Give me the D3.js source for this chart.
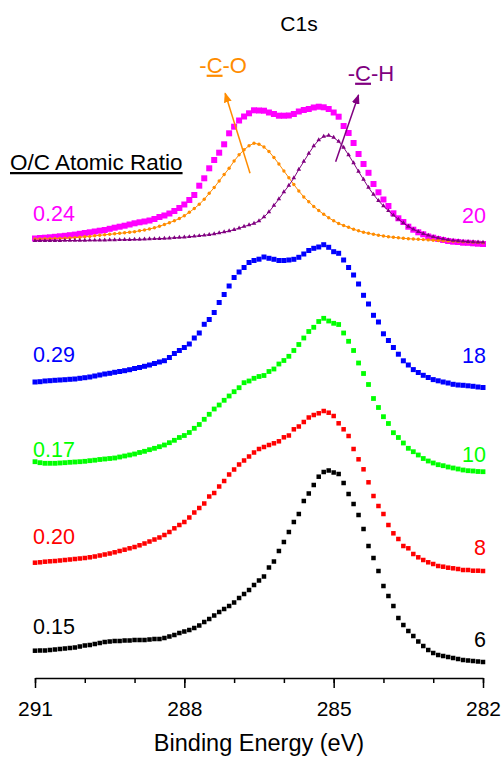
<!DOCTYPE html>
<html>
<head>
<meta charset="utf-8">
<script src="https://cdn.jsdelivr.net/npm/d3@7"></script>
<style>
  html, body { margin: 0; padding: 0; background: #fff; }
  svg { display: block; font-family: "Liberation Sans", Arial, Helvetica, sans-serif; }
</style>
</head>
<body>
<div id="chart"></div>
<script>
// channel grid: 291.0 -> 282.0 eV in 0.1 eV steps (91 channels)
const energyStart = 291.0;
const energyStep = 0.1;
const majorTicks = [291, 288, 285, 282];
const minorTicks = [291, 290, 289, 288, 287, 286, 285, 284, 283, 282];

// O/C ratio (left) and the number on the right of each trace, top to bottom
const ratioLabels = ['0.24', '0.29', '0.17', '0.20', '0.15'];
const rightLabels = ['20', '18', '10', '8', '6'];

// stacked C1s intensities (a.u., offsets included), one value per channel
const trace024 = [461.5, 462, 462.3, 462.7, 463.2, 463.7, 464.2, 464.8, 465.4, 466.2,
  467, 467.7, 468.5, 469.3, 470, 471.2, 472.3, 473.3, 474.3, 475.5,
  476.7, 477.7, 478.5, 479.5, 481, 483, 484.5, 486.5, 489, 492,
  495.5, 500, 505, 514.3, 521.7, 531.7, 540, 547.3, 555.7, 566.7,
  573.3, 579.5, 583.5, 586.7, 589.7, 589.5, 589.3, 587.5, 586, 584.3,
  584.3, 584.5, 586, 588.5, 590, 591, 592.5, 593.3, 592.7, 591,
  587.5, 583.3, 574, 567, 557, 546, 536, 527.2, 516, 507.7,
  500.5, 494, 486.7, 481.7, 478, 473.3, 470.3, 467.7, 465.7, 463.5,
  462.3, 461, 460, 459, 458.3, 458, 457.3, 457.2, 456.7, 456.3, 456];

const trace029 = [318, 318.3, 319, 319.3, 319.7, 320, 320.3, 320.7, 321, 321.7,
  322.3, 323, 324, 325, 326, 326.7, 327.7, 328.5, 329.3, 330.3,
  331.5, 332.5, 333.7, 335, 336.5, 338, 339.3, 342.5, 346.5, 349.5,
  352.5, 356, 362, 367, 375.7, 380.5, 387.5, 397.5, 405.5, 414,
  422.5, 428, 432.5, 437.5, 439.5, 440.8, 443, 441.7, 440.7, 439.5,
  439.5, 440, 440.7, 442.7, 446, 449.5, 451.7, 453, 455.3, 452.7,
  448.3, 446.7, 440, 432.5, 425, 416, 404.7, 396, 384.7, 378,
  366.2, 359.5, 352.5, 345.8, 339.2, 335, 330.4, 327.5, 324.7, 322.5,
  320.4, 319.2, 318, 317, 315.7, 315, 314.7, 314.2, 313.7, 313, 312.5];

const trace017 = [238.3, 237.3, 236.7, 236.7, 236.7, 237, 237.3, 237.7, 238, 238.3,
  238.7, 239.3, 239.8, 240.5, 241, 241.5, 242, 243, 244, 245,
  246, 247.5, 248.7, 250.3, 251.7, 253.3, 255, 257.3, 259.7, 262.5,
  264.5, 267.5, 271.7, 275.5, 280.7, 285.7, 291, 295, 299.7, 304,
  308.3, 312.3, 317.3, 319, 321.7, 323.5, 324.5, 328.5, 331, 336,
  339.5, 343.7, 349.5, 355.5, 362, 368.5, 372.7, 378.5, 381.7, 379,
  376.7, 375.5, 367, 358.7, 349.5, 337, 326.5, 315.5, 301.5, 292.5,
  283.3, 276.5, 267.3, 262.5, 257, 251.7, 248.3, 245, 241.5, 239,
  237, 235.3, 234.3, 233, 232, 231, 230, 229.3, 229, 228.5, 228.3];

const trace020 = [137.3, 137.7, 138.3, 138.7, 139, 139.5, 140, 140.5, 141, 141.5,
  142, 142.7, 143.5, 144.5, 145.5, 146.5, 147.7, 149, 150.3, 151.7,
  153, 154.7, 156.5, 158.5, 160.5, 162.5, 165, 168, 171.7, 175,
  178, 182.5, 187.5, 192, 196.5, 203.5, 207, 213.5, 219, 225.5,
  230.5, 235.5, 239.5, 243.5, 247.5, 251, 253, 255, 256.7, 258.7,
  262.7, 264.5, 270.7, 273.5, 278, 282.5, 285, 286.7, 289, 287.3,
  284, 276.7, 270.7, 264, 251, 240.7, 230.7, 217.7, 204, 194,
  186, 175, 166.7, 161, 154, 151.7, 146, 142.7, 140, 137.7,
  136, 134, 133.3, 132.3, 131.7, 131, 130, 130, 129.3, 129.3, 129];

const trace015 = [49.3, 49.5, 49.5, 50, 50.5, 51, 51.5, 52, 52.5, 53.5,
  54.5, 55, 56, 57, 58, 58.5, 59, 59, 59.5, 59.5,
  60, 60, 60, 60.5, 61, 61, 62, 63.5, 65, 67,
  68.5, 70, 72, 74.5, 78, 81, 84.5, 88, 91, 94,
  97.5, 102, 106, 110, 115, 119.5, 123.5, 132.5, 138.5, 149,
  158, 168, 178, 186, 199, 206.5, 215, 223.3, 228, 229.5,
  227.5, 226, 217, 206, 196, 185, 171, 154, 142, 129,
  114, 104, 94, 82, 75, 69, 64, 58.5, 54, 50,
  47, 45, 44, 43, 42, 41, 40, 39.5, 39, 38.5, 38];

// peak fit components of the 0.24 trace
const fitCO = [461, 461.1, 461.2, 461.3, 461.5, 461.6, 461.8, 462.1, 462.4, 462.8,
  463.2, 463.6, 464.2, 464.7, 465.2, 465.7, 466.2, 466.7, 467.2, 467.8,
  468.3, 469.2, 470, 471, 472.2, 473.7, 475.5, 477.3, 479.2, 481.5,
  484.2, 487.7, 491.5, 495.7, 500.7, 506.7, 512.5, 519, 525.5, 531.7,
  539, 545.2, 550.2, 554.3, 556.7, 555.8, 553, 548.5, 542.5, 536,
  529, 522.3, 515.5, 509, 503, 498.3, 493.5, 489.5, 485.7, 482.2,
  479.2, 476.5, 474.5, 472.7, 470.7, 469.2, 467.7, 466.7, 465.7, 464.8,
  464, 463.2, 462.7, 462.2, 461.7, 461.3, 461, 460.7, 460.4, 460.1,
  459.8, 459.5, 459.2, 458.9, 458.7, 458.4, 458.2, 457.9, 457.7, 457.5, 457.3];

const fitCH = [459.3, 459.3, 459.3, 459.4, 459.4, 459.4, 459.5, 459.5, 459.5, 459.6,
  459.6, 459.7, 459.7, 459.8, 459.9, 460, 460.1, 460.2, 460.3, 460.4,
  460.5, 460.6, 460.8, 461, 461.2, 461.4, 461.6, 461.9, 462.2, 462.5,
  462.8, 463.2, 463.7, 464.2, 464.7, 465.4, 466.1, 467, 468, 469,
  470.4, 471.8, 473.5, 475, 476.5, 479, 483, 488, 494.5, 501,
  508, 514.5, 522, 530.5, 538.5, 546.5, 554, 560, 563.5, 564.5,
  562.5, 558.5, 552.5, 545, 537, 528.5, 520.5, 512.5, 505.5, 499.3,
  494, 489.2, 484.7, 480.7, 477, 473.5, 470.7, 468.4, 466.4, 464.7,
  463.2, 462, 461, 460.2, 459.5, 459.1, 458.7, 458.3, 458, 457.8, 457.7];

const traces = [trace024, trace029, trace017, trace020, trace015];
const traceColors = ['#ff00ff', '#0000ff', '#00ff00', '#ff0000', '#000000'];
const markerSizes = [6, 5, 4.8, 4.5, 4.5];
// baselines of the side labels (left / right), in intensity units
const leftLabelY = [479, 338.3, 243.3, 155.7, 66];
const rightLabelY = [476.7, 337.3, 237.7, 145, 53.3];

const width = 502;
const height = 757;
const fontSize = 21;

const x = d3.scaleLinear().domain([291, 282]).range([35, 483]);
const y = d3.scaleLinear().domain([0, 700]).range([700, 0]);
const energyAt = (i) => energyStart - i * energyStep;

const svg = d3.select('#chart').append('svg')
  .attr('width', width)
  .attr('height', height)
  .attr('viewBox', `0 0 ${width} ${height}`);

// arrowheads
const defs = svg.append('defs');
[['arrow-co', '#ff8c00'], ['arrow-ch', '#800080']].forEach(([id, color]) => {
  defs.append('marker')
    .attr('id', id)
    .attr('viewBox', '0 0 10 8')
    .attr('refX', 9)
    .attr('refY', 4)
    .attr('markerWidth', 10)
    .attr('markerHeight', 8)
    .attr('markerUnits', 'userSpaceOnUse')
    .attr('orient', 'auto')
    .append('path')
    .attr('d', 'M0,0 L10,4 L0,8 Z')
    .attr('fill', color);
});

// measured traces as square markers
traces.forEach((values, k) => {
  const s = markerSizes[k];
  svg.append('g')
    .selectAll('rect')
    .data(values)
    .join('rect')
    .attr('x', (d, i) => x(energyAt(i)) - s / 2)
    .attr('y', (d) => y(d) - s / 2)
    .attr('width', s)
    .attr('height', s)
    .attr('fill', traceColors[k]);
});

// fitted components: line + small symbols
function drawFit(values, color, symbolType, symbolSize) {
  const line = d3.line()
    .x((d, i) => x(energyAt(i)))
    .y((d) => y(d));
  svg.append('path')
    .datum(values)
    .attr('d', line)
    .attr('fill', 'none')
    .attr('stroke', color)
    .attr('stroke-width', 1);
  svg.append('g')
    .selectAll('path')
    .data(values)
    .join('path')
    .attr('transform', (d, i) => `translate(${x(energyAt(i))},${y(d)})`)
    .attr('d', d3.symbol().type(symbolType).size(symbolSize))
    .attr('fill', color);
}
drawFit(fitCO, '#ff8c00', d3.symbolCircle, 9);
drawFit(fitCH, '#800080', d3.symbolTriangle, 9);

// component arrows (energy, intensity)
const arrows = [
  { from: [286.68, 526.7], to: [287.18, 606.7], color: '#ff8c00', marker: 'arrow-co' },
  { from: [284.96, 538.3], to: [284.50, 605], color: '#800080', marker: 'arrow-ch' },
];
svg.append('g')
  .selectAll('line')
  .data(arrows)
  .join('line')
  .attr('x1', (d) => x(d.from[0]))
  .attr('y1', (d) => y(d.from[1]))
  .attr('x2', (d) => x(d.to[0]))
  .attr('y2', (d) => y(d.to[1]))
  .attr('stroke', (d) => d.color)
  .attr('stroke-width', 1.5)
  .attr('marker-end', (d) => `url(#${d.marker})`);

// component labels with underlined C
function componentLabel(cx, baseline, tail, color) {
  const t = svg.append('text')
    .attr('x', cx)
    .attr('y', baseline)
    .attr('text-anchor', 'middle')
    .attr('font-size', 22)
    .attr('fill', color);
  t.append('tspan').text('-');
  t.append('tspan').style('text-decoration', 'underline').text('C');
  t.append('tspan').text(tail);
}
componentLabel(x(287.22), y(627.3), '-O', '#ff8c00');
componentLabel(x(284.25), y(619.3), '-H', '#800080');

// title
svg.append('text')
  .attr('x', 299)
  .attr('y', 31)
  .attr('text-anchor', 'middle')
  .attr('font-size', fontSize)
  .text('C1s');

svg.append('text')
  .attr('x', 10)
  .attr('y', 170)
  .attr('font-size', 22.5)
  .style('text-decoration', 'underline')
  .text('O/C Atomic Ratio');

// side labels
svg.append('g')
  .selectAll('text')
  .data(ratioLabels)
  .join('text')
  .attr('x', x(291) - 2)
  .attr('y', (d, i) => y(leftLabelY[i]))
  .attr('font-size', 21.5)
  .attr('fill', (d, i) => traceColors[i])
  .text((d) => d);

svg.append('g')
  .selectAll('text')
  .data(rightLabels)
  .join('text')
  .attr('x', x(282) + 3)
  .attr('y', (d, i) => y(rightLabelY[i]))
  .attr('text-anchor', 'end')
  .attr('font-size', 21.5)
  .attr('fill', (d, i) => traceColors[i])
  .text((d) => d);

// x axis
const axisY = 678;
const minorAxis = d3.axisBottom(x).tickValues(minorTicks).tickSize(5).tickSizeOuter(0).tickFormat('');
const majorAxis = d3.axisBottom(x).tickValues(majorTicks).tickSize(10).tickSizeOuter(0).tickPadding(13.5).tickFormat(d3.format('d'));

svg.append('g')
  .attr('transform', `translate(0,${axisY})`)
  .call(minorAxis)
  .call((g) => g.selectAll('path, line').attr('stroke-width', 1.5));

svg.append('g')
  .attr('transform', `translate(0,${axisY})`)
  .call(majorAxis)
  .call((g) => g.select('.domain').remove())
  .call((g) => g.selectAll('line').attr('stroke-width', 1.5))
  .call((g) => g.selectAll('text').attr('font-size', fontSize).attr('font-family', null));

svg.append('text')
  .attr('x', (x(291) + x(282)) / 2)
  .attr('y', 750.5)
  .attr('text-anchor', 'middle')
  .attr('font-size', 23.5)
  .text('Binding Energy (eV)');
</script>
</body>
</html>
